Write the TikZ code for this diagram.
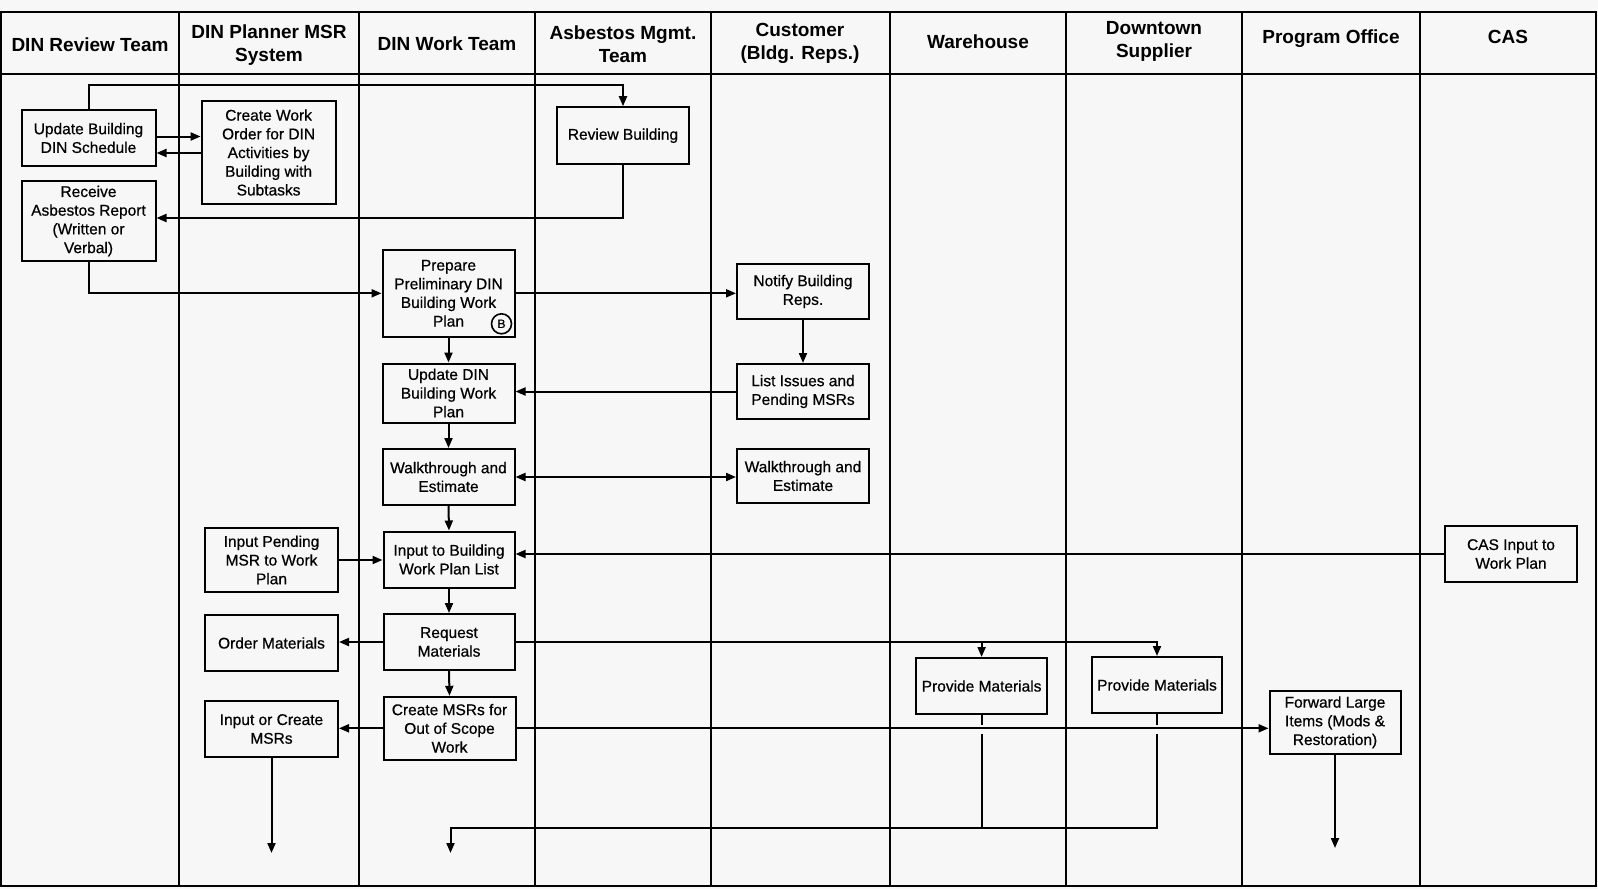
\documentclass[tikz,border=0pt]{standalone}
\usepackage{fontspec}
\setmainfont{Liberation Sans}
\newfontfamily\boxfont{Liberation Sans}[FakeBold=0.6]
\usetikzlibrary{arrows.meta}
\definecolor{bg}{HTML}{F7F7F7}
\begin{document}
\begin{tikzpicture}[x=1pt,y=-1pt,
  box/.style={draw, line width=2pt, align=center, inner sep=0pt, font=\boxfont\fontsize{15.5}{18.7}\selectfont},
  hdr/.style={align=center, font=\fontsize{19}{23}\selectfont\bfseries},
  lane/.style={line width=2pt},
  conn/.style={line width=2pt, -{Triangle[length=10pt,width=8pt]}},
  dconn/.style={line width=2pt, {Triangle[length=10pt,width=8pt]}-{Triangle[length=10pt,width=8pt]}},
  plainln/.style={line width=2pt},
]
\fill[bg] (0,0) rectangle (1598,889);
\useasboundingbox (0,0) rectangle (1598,889);
% lanes
\draw[lane] (1,12) rectangle (1596,886);
\draw[lane] (1,74) -- (1596,74);
\foreach \x in {179,359,535,711,890,1066,1242,1420} \draw[lane] (\x,12) -- (\x,886);
% headers
\node[hdr] (h1) at (90,45) {DIN Review Team};
\node[hdr] (h2) at (269,45) {DIN Planner MSR\\System};
\node[hdr] (h3) at (447,44) {DIN Work Team};
\node[hdr] (h4) at (623,44) {Asbestos Mgmt.\\Team};
\node[hdr] (h5) at (800,43) {Customer\\(Bldg. Reps.)};
\node[hdr] (h6) at (978,42) {Warehouse};
\node[hdr] (h7) at (1154,41) {Downtown\\Supplier};
\node[hdr] (h8) at (1331,39) {Program Office};
\node[hdr] (h9) at (1508,37) {CAS};
% boxes
\node[box, minimum width=134pt, minimum height=56pt] (upd) at (88.5,138) {Update Building\\DIN Schedule};
\node[box, minimum width=134pt, minimum height=103pt] (cwo) at (268.6,152.5) {Create Work\\Order for DIN\\Activities by\\Building with\\Subtasks};
\node[box, minimum width=132pt, minimum height=57pt] (rev) at (623,135.7) {Review Building};
\node[box, minimum width=134pt, minimum height=80pt] (rcv) at (88.5,221) {Receive\\Asbestos Report\\(Written or\\Verbal)};
\node[box, minimum width=132pt, minimum height=87pt] (prep) at (448.5,293.3) {Prepare\\Preliminary DIN\\Building Work\\Plan};
\node[circle, draw, line width=1.6pt, minimum size=20pt, inner sep=0pt, font=\boxfont\fontsize{12}{12}\selectfont] (bmark) at ([xshift=-14pt,yshift=14pt]prep.south east) {B};
\node[box, minimum width=132pt, minimum height=55pt] (ntf) at (803,291.5) {Notify Building\\Reps.};
\node[box, minimum width=132pt, minimum height=59pt] (udp) at (448.5,393) {Update DIN\\Building Work\\Plan};
\node[box, minimum width=132pt, minimum height=55pt] (lst) at (803,391.5) {List Issues and\\Pending MSRs};
\node[box, minimum width=132pt, minimum height=56pt] (wkt) at (448.5,477) {Walkthrough and\\Estimate};
\node[box, minimum width=132pt, minimum height=54pt] (wkc) at (803,476) {Walkthrough and\\Estimate};
\node[box, minimum width=133pt, minimum height=64pt] (inp) at (271.5,560) {Input Pending\\MSR to Work\\Plan};
\node[box, minimum width=131pt, minimum height=56pt] (inb) at (449,559.5) {Input to Building\\Work Plan List};
\node[box, minimum width=132pt, minimum height=56pt] (cas) at (1511,554) {CAS Input to\\Work Plan};
\node[box, minimum width=133pt, minimum height=56pt] (ord) at (271.5,643) {Order Materials};
\node[box, minimum width=131pt, minimum height=56pt] (req) at (449,642) {Request\\Materials};
\node[box, minimum width=131pt, minimum height=56pt] (whp) at (981.6,686) {Provide Materials};
\node[box, minimum width=130pt, minimum height=56pt] (dtp) at (1157,685) {Provide Materials};
\node[box, minimum width=132pt, minimum height=63pt] (cms) at (449.5,728.3) {Create MSRs for\\Out of Scope\\Work};
\node[box, minimum width=133pt, minimum height=56pt] (ioc) at (271.5,729) {Input or Create\\MSRs};
\node[box, minimum width=131pt, minimum height=63pt] (fwd) at (1335,722.3) {Forward Large\\Items (Mods \&\\Restoration)};
% free ends
\coordinate (e1) at (271.5,853);
\coordinate (jn) at (450.5,828);
\coordinate (e2) at (450.5,853);
\coordinate (e3) at (1335,848);
% connectors
\draw[conn] (upd.north) -- ++(0,-24) -| (rev.north);
\draw[conn] ([yshift=1.5pt]upd.east) -- ([yshift=1.5pt]upd.east -| cwo.west);
\draw[conn] ([yshift=-15pt]upd.east -| cwo.west) -- ([yshift=-15pt]upd.east);
\draw[conn] (rev.south) |- ([yshift=3pt]rcv.east);
\draw[conn] (rcv.south) |- (prep.west);
\draw[conn] (prep.east) -- (prep.east -| ntf.west);
\draw[conn] (ntf.south) -- (lst.north);
\draw[conn] (prep.south) -- (udp.north);
\draw[conn] (lst.west) -- (lst.west -| udp.east);
\draw[conn] (udp.south) -- (wkt.north);
\draw[dconn] (wkt.east) -- (wkt.east -| wkc.west);
\draw[conn] (wkt.south) -- (inb.north);
\draw[conn] (inp.east) -- (inp.east -| inb.west);
\draw[conn] (cas.west) -- (cas.west -| inb.east);
\draw[conn] (inb.south) -- (req.north);
\draw[conn] (req.west) -- (req.west -| ord.east);
\draw[conn] (req.east) -- (req.east -| dtp.north) -- (dtp.north);
\draw[conn] (req.east -| whp.north) -- (whp.north);
\draw[conn] (req.south) -- (cms.north);
\draw[conn] (cms.west) -- (cms.west -| ioc.east);
\draw[conn] (cms.east) -- (cms.east -| fwd.west);
\draw[conn] (ioc.south) -- (e1);
\draw[conn] (fwd.south) -- (e3);
\draw[plainln] (whp.south) -- ([yshift=-10pt]whp.south);
\draw[plainln] ([yshift=-19pt]whp.south) -- (whp.south |- jn);
\draw[plainln] (dtp.south) -- ([yshift=-11pt]dtp.south);
\draw[conn] ([yshift=-20pt]dtp.south) |- (jn) -- (e2);
\end{tikzpicture}
\end{document}
